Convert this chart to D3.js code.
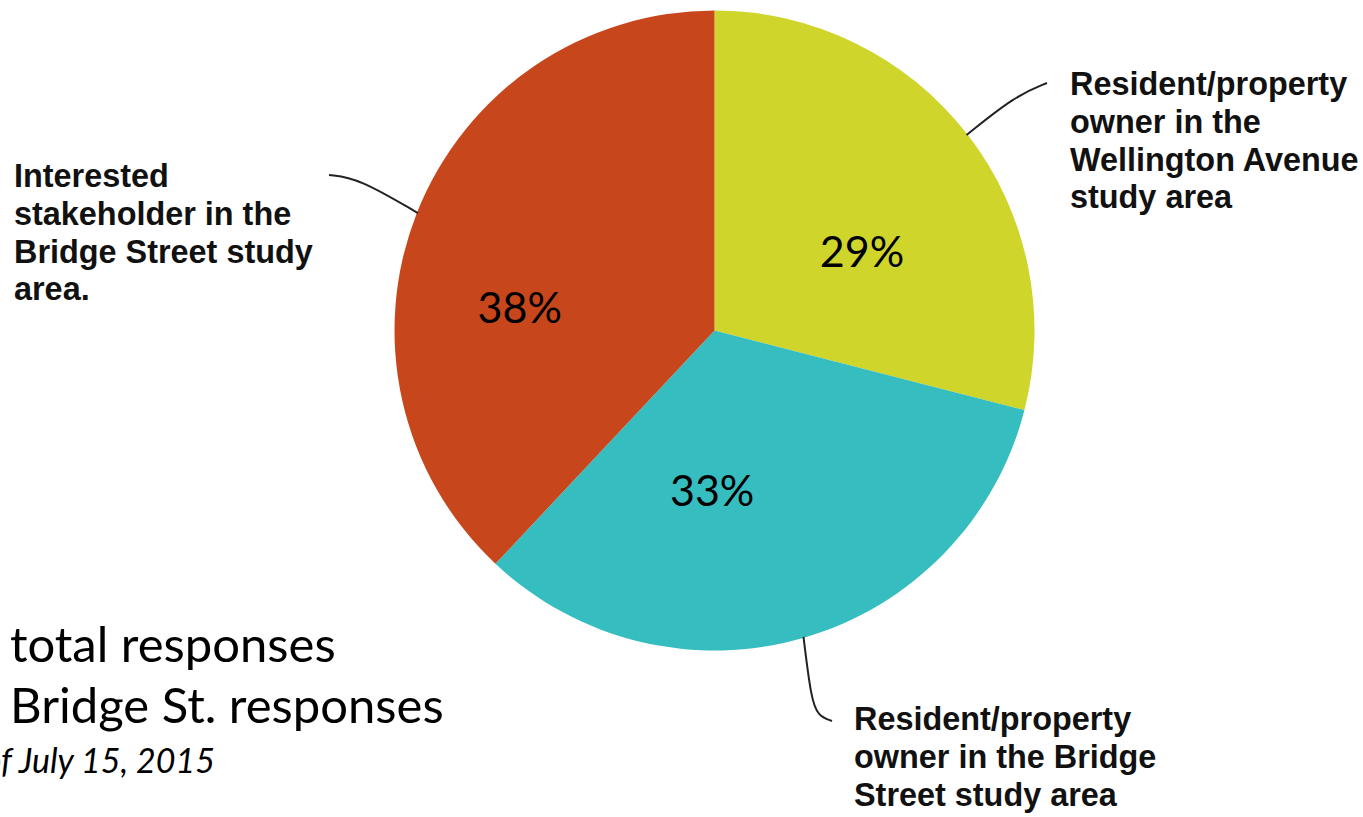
<!DOCTYPE html>
<html>
<head>
<meta charset="utf-8">
<script src="https://cdn.jsdelivr.net/npm/d3@7"></script>
<style>
  html, body { margin: 0; padding: 0; background: #ffffff; overflow: hidden; }
  svg { display: block; }
</style>
</head>
<body>
<svg id="chart" width="1363" height="817"></svg>
<script>
// Respondent groups, clockwise from 12 o'clock
const categories = [
  "Resident/property owner in the Wellington Avenue study area",
  "Resident/property owner in the Bridge Street study area",
  "Interested stakeholder in the Bridge Street study area."
];
const shares = [29, 33, 38];
const sliceColors = ["#cfd52a", "#35bdbf", "#c7461c"];

// Callout text, one entry per line
const calloutLines = [
  ["Resident/property", "owner in the", "Wellington Avenue", "study area"],
  ["Resident/property", "owner in the Bridge", "Street study area"],
  ["Interested", "stakeholder in the", "Bridge Street study", "area."]
];

const noteLines = ["total responses", "Bridge St. responses"];
const dateNote = "As of July 15, 2015";

const svg = d3.select("#chart");
const cx = 714.5, cy = 330.5, radius = 320;

const data = categories.map((c, i) => ({ name: c, value: shares[i], color: sliceColors[i] }));

const pie = d3.pie().value(d => d.value).sort(null);
const arcs = pie(data);
const arc = d3.arc().innerRadius(0).outerRadius(radius);

const g = svg.append("g").attr("transform", `translate(${cx},${cy})`);

g.selectAll("path.slice")
  .data(arcs)
  .join("path")
  .attr("class", "slice")
  .attr("d", arc)
  .attr("fill", d => d.data.color);

// Percentage labels inside slices
const labelArc = d3.arc().innerRadius(160).outerRadius(160);
const labelNudge = [[21, 20], [-47, 7], [-46, 36]];
g.selectAll("text.pct")
  .data(arcs)
  .join("text")
  .attr("class", "pct")
  .attr("transform", (d, i) => {
    const [x, y] = labelArc.centroid(d);
    return `translate(${x + labelNudge[i][0]},${y + labelNudge[i][1]})`;
  })
  .attr("text-anchor", "middle")
  .attr("dy", "0.35em")
  .attr("font-family", "Lato, 'Open Sans', sans-serif")
  .attr("font-size", 43)
  .attr("fill", "#000")
  .text(d => d.data.value + "%");

// Leader lines from the middle of each slice's rim out to its callout
const edgePoint = (a, r) => [cx + r * Math.sin(a), cy - r * Math.cos(a)];
const leader = d3.line().curve(d3.curveBasis);

const callouts = [
  { ctrl: [[1015, 96]], end: [1047, 83], text: [1070, 95] },
  { ctrl: [[811, 698], [818, 716]], end: [832, 721], text: [854, 730] },
  { ctrl: [[358, 178]], end: [329, 175], text: [14, 187] }
];

callouts.forEach((c, i) => {
  const a = (arcs[i].startAngle + arcs[i].endAngle) / 2;
  const start = edgePoint(a, radius - 1);
  const pts = [start, start, ...c.ctrl, c.end, c.end];
  svg.append("path")
    .attr("d", leader(pts))
    .attr("fill", "none")
    .attr("stroke", "#222")
    .attr("stroke-width", 2);

  const t = svg.append("text")
    .attr("x", c.text[0])
    .attr("y", c.text[1])
    .attr("font-family", "'Liberation Sans', Arial, sans-serif")
    .attr("font-weight", "bold")
    .attr("font-size", 32.4)
    .attr("fill", "#111");
  calloutLines[i].forEach((line, k) => {
    t.append("tspan")
      .attr("x", c.text[0])
      .attr("dy", k === 0 ? 0 : 37.8)
      .text(line);
  });
});

// Notes in the lower left
const notes = svg.append("g")
  .attr("font-family", "Lato, 'Open Sans', sans-serif")
  .attr("fill", "#000");
noteLines.forEach((line, k) => {
  notes.append("text")
    .attr("x", 10)
    .attr("y", 662 + k * 61)
    .attr("font-size", 49)
    .text(line);
});
notes.append("text")
  .attr("x", 215)
  .attr("y", 773)
  .attr("text-anchor", "end")
  .attr("font-style", "italic")
  .attr("font-size", 34)
  .text(dateNote);
</script>
</body>
</html>
